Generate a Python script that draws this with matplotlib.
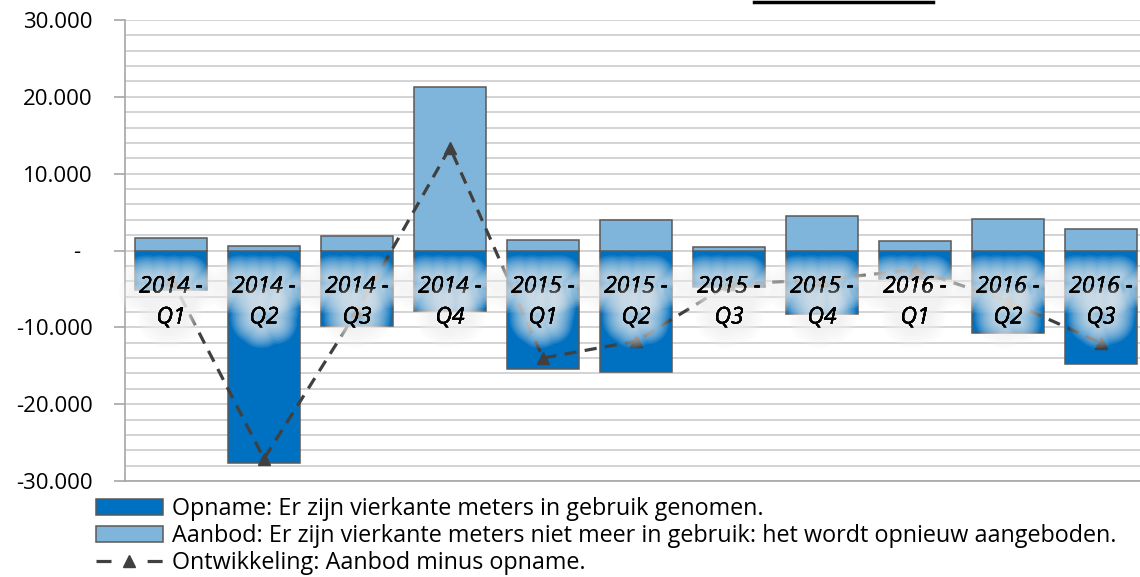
import matplotlib
matplotlib.use("Agg")
import matplotlib.pyplot as plt
import matplotlib.patheffects as pe
from matplotlib.lines import Line2D
from matplotlib.ticker import MultipleLocator, FuncFormatter

# Data
jaren = ["2014", "2014", "2014", "2014", "2015", "2015", "2015", "2015", "2016", "2016", "2016"]
kwartalen = ["Q1", "Q2", "Q3", "Q4", "Q1", "Q2", "Q3", "Q4", "Q1", "Q2", "Q3"]
opname = [-5200, -27700, -9800, -7900, -15400, -15800, -4800, -8300, -3700, -10700, -14800]
aanbod = [1600, 600, 1900, 21300, 1400, 4000, 400, 4500, 1200, 4100, 2800]
ontwikkeling = [-3600, -27100, -7900, 13400, -14000, -11800, -4400, -3800, -2500, -6600, -12000]

legend_labels = [
    "Opname: Er zijn vierkante meters in gebruik genomen.",
    "Aanbod: Er zijn vierkante meters niet meer in gebruik: het wordt opnieuw aangeboden.",
    "Ontwikkeling: Aanbod minus opname.",
]

plt.rcParams['font.family'] = ['Open Sans', 'DejaVu Sans']

fig = plt.figure(figsize=(11.4, 5.77), dpi=100)
ax = fig.add_axes([124.5 / 1140, 1 - 481 / 577, 1023 / 1140, 461 / 577])

x = list(range(len(kwartalen)))
edge = '#595959'
line_col = '#404040'
b1 = ax.bar(x, opname, width=0.77, color='#0070C0', edgecolor=edge, linewidth=1.1, zorder=2)
b2 = ax.bar(x, aanbod, width=0.77, color='#7FB5DB', edgecolor=edge, linewidth=1.1, zorder=2)
ax.plot(x, ontwikkeling, color=line_col, linewidth=2.3, linestyle=(0, (3.8, 2.6)),
        marker='^', markersize=8.5, zorder=3)

# category labels sitting under the zero line, with a soft white glow
glow = [pe.withStroke(linewidth=w, foreground='#f2f2f2', alpha=0.09)
        for w in range(30, 3, -2)] + [pe.Normal()]
for i in x:
    ax.text(i, -6700, f"{jaren[i]} -\n{kwartalen[i]}", ha='center', va='center',
            fontsize=16.5, style='italic', linespacing=1.38, zorder=5,
            path_effects=glow)

ax.set_xlim(-0.5, len(x) - 0.5)
ax.set_ylim(-30000, 30000)
ax.yaxis.set_major_locator(MultipleLocator(10000))
ax.yaxis.set_minor_locator(MultipleLocator(2000))


def fmt(v, pos):
    if v == 0:
        return "-  "
    return f"{v:,.0f}".replace(",", ".")


ax.yaxis.set_major_formatter(FuncFormatter(fmt))
ax.tick_params(axis='y', which='major', length=8, width=1.2, color='#A6A6A6',
               labelsize=16, pad=15)
ax.tick_params(axis='y', which='minor', length=0)
ax.tick_params(axis='x', length=0, labelbottom=False)
ax.grid(axis='y', which='both', color='#D0D0D0', linewidth=1.3, zorder=0)
ax.set_axisbelow(True)

for s in ['top', 'right']:
    ax.spines[s].set_visible(False)
ax.spines['left'].set_color('#A6A6A6')
ax.spines['left'].set_linewidth(1.2)
ax.spines['bottom'].set_color('#A6A6A6')
ax.spines['bottom'].set_linewidth(1.2)

# legend entry for the line: "- ^ -"
ln_handle = Line2D([], [], color=line_col, linewidth=2.3, linestyle=(0, (4.7, 11.3)),
                   marker='^', markersize=8.5)
fig.legend([b1, b2, ln_handle], legend_labels, loc='upper left',
           bbox_to_anchor=(96 / 1140, 1 - 497 / 577), frameon=False,
           fontsize=16.8, handlelength=2.85, handleheight=0.68, handletextpad=0.42,
           labelspacing=0.12, borderpad=0, borderaxespad=0)

# bit of the cut-off title underline at the top
fig.add_artist(Line2D([754 / 1140, 933 / 1140], [1 - 2 / 577] * 2, color='black', linewidth=2.5))

fig.savefig("out.png", dpi=100)
